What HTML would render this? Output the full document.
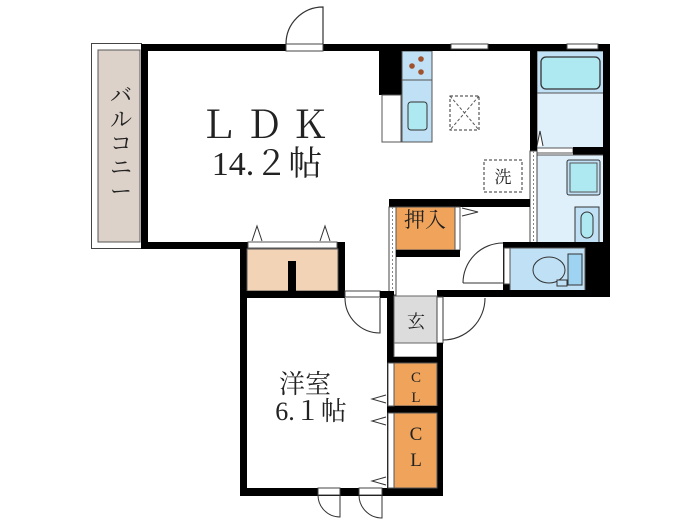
<!DOCTYPE html>
<html><head><meta charset="utf-8"><style>
html,body{margin:0;padding:0;background:#fff;}
svg{display:block;}
.t{font-family:"Liberation Serif","Noto Serif CJK JP",serif;fill:#222;}
</style></head><body>
<svg width="700" height="525" viewBox="0 0 700 525" xmlns="http://www.w3.org/2000/svg">
<!-- balcony -->
<rect x="91.5" y="43.5" width="50" height="205" fill="#fff" stroke="#444" stroke-width="1"/>
<rect x="98" y="50" width="42" height="192" fill="#ddd2c9" stroke="#555" stroke-width="1"/>
<text class="t" x="121" y="0" font-size="22" text-anchor="middle">
<tspan x="121" y="103">バ</tspan><tspan x="121" y="127">ル</tspan><tspan x="121" y="151">コ</tspan><tspan x="121" y="175">ニ</tspan><tspan x="121" y="199">ー</tspan></text>

<!-- kitchen -->
<rect x="379" y="51" width="24" height="44" fill="#000"/>
<rect x="382" y="95" width="19" height="47" fill="#fff" stroke="#555"/>
<rect x="402" y="51" width="30" height="91" fill="#bfe0f5" stroke="#555"/>
<line x1="402" y1="80" x2="432" y2="80" stroke="#555"/>
<circle cx="412" cy="66" r="2.8" fill="#a0522d"/><circle cx="421" cy="59" r="2.8" fill="#a0522d"/><circle cx="421" cy="72" r="2.8" fill="#a0522d"/>
<rect x="408" y="102" width="19" height="28" rx="3" fill="#aee9f2" stroke="#333"/>
<rect x="450" y="96" width="29" height="34" fill="none" stroke="#333" stroke-dasharray="3,2"/>
<path d="M450 96L479 130M479 96L450 130" stroke="#555" stroke-dasharray="3,2"/>
<rect x="484" y="160" width="38" height="32" fill="none" stroke="#333" stroke-dasharray="3,2"/>
<text class="t" x="503" y="183" font-size="17" text-anchor="middle">洗</text>

<!-- bath -->
<rect x="537" y="51" width="67" height="97" fill="#dff0fb" stroke="#555"/>
<rect x="537" y="51" width="67" height="42" fill="#bfe0f5" stroke="#555"/>
<rect x="541" y="57" width="59" height="32" rx="5" fill="#aee9f2" stroke="#333" stroke-width="1.3"/>
<rect x="537" y="148" width="36" height="5" fill="#fff" stroke="#555"/>
<path d="M537 146L540 131L543 146" fill="#fff" stroke="#333"/>
<rect x="573" y="147" width="37" height="8" fill="#000"/>
<!-- washroom -->
<rect x="537" y="155" width="67" height="95" fill="#dff0fb" stroke="#555"/>
<rect x="567" y="160" width="33" height="35" rx="2" fill="#bfe0f5" stroke="#333"/>
<rect x="570" y="163" width="27" height="29" fill="#aee9f2" stroke="#555"/>
<rect x="575" y="207" width="24" height="37" fill="#bfe0f5" stroke="#333"/>
<rect x="581" y="212" width="12" height="26" rx="6" fill="#aee9f2" stroke="#333"/>
<!-- LDK/bath wall -->
<rect x="530" y="51" width="7" height="100" fill="#000"/>
<rect x="530" y="151" width="7" height="99" fill="#fff" stroke="#444"/>
<line x1="533.5" y1="151" x2="533.5" y2="250" stroke="#888" stroke-dasharray="2,2"/>

<!-- top wall & door -->
<rect x="141" y="44" width="469" height="7" fill="#000"/>
<rect x="286" y="44" width="37" height="7" fill="#fff" stroke="#444"/>
<path d="M286 44A37 37 0 0 1 323 7V44" fill="none" stroke="#333" stroke-width="1.2"/>
<rect x="451" y="44" width="37" height="5" fill="#fff" stroke="#444"/>
<rect x="567" y="44" width="31" height="5" fill="#fff" stroke="#444"/>
<!-- right wall -->
<rect x="603" y="44" width="7" height="253" fill="#000"/>
<rect x="585" y="242" width="25" height="55" fill="#000"/>
<!-- left wall & bottom of LDK -->
<rect x="141" y="44" width="7" height="205" fill="#000"/>
<rect x="141" y="242" width="106" height="7" fill="#000"/>

<!-- storage block -->
<rect x="240" y="242" width="105" height="56" fill="#000"/>
<rect x="247" y="249" width="91" height="42" fill="#f2d3b5" stroke="#555"/>
<rect x="248" y="242" width="89" height="6" fill="#fff" stroke="#555"/>
<rect x="288" y="261" width="8" height="30" fill="#000"/>
<path d="M252 241L257 226L262 241" fill="#fff" stroke="#333"/>
<path d="M320 241L325 226L330 241" fill="#fff" stroke="#333"/>

<!-- 押入 -->
<rect x="389" y="199" width="141" height="8" fill="#000"/>
<rect x="389" y="207" width="7" height="88" fill="#fff" stroke="#444"/>
<line x1="392.5" y1="207" x2="392.5" y2="295" stroke="#888" stroke-dasharray="2,2"/>
<rect x="396" y="207" width="59" height="43" fill="#f0a35a" stroke="#555"/>
<rect x="455" y="207" width="5" height="43" fill="#fff" stroke="#555"/>
<rect x="396" y="250" width="64" height="7" fill="#000"/>
<path d="M462 208L478 212L462 216" fill="#fff" stroke="#333"/>
<text class="t" x="425" y="227" font-size="21" text-anchor="middle">押入</text>

<!-- toilet -->
<rect x="503" y="242" width="107" height="6" fill="#000"/>
<rect x="503" y="248" width="7" height="49" fill="#000"/>
<rect x="504" y="248" width="6" height="36" fill="#fff" stroke="#444"/>
<rect x="510" y="248" width="75" height="43" fill="#bfe0f5" stroke="#555"/>
<ellipse cx="549" cy="270" rx="16" ry="13" fill="#bfe0f5" stroke="#333"/>
<rect x="568" y="254" width="14" height="31" fill="#9fd3f2" stroke="#333"/>
<rect x="557" y="280" width="10" height="6" fill="#bfe0f5" stroke="#333"/>
<path d="M463 283A40 40 0 0 1 503 243M463 283H503" fill="none" stroke="#333" stroke-width="1.1"/>

<!-- corridor lower wall -->
<rect x="437" y="290" width="173" height="7" fill="#000"/>

<!-- 洋室 walls -->
<rect x="240" y="291" width="7" height="205" fill="#000"/>
<rect x="240" y="291" width="105" height="7" fill="#000"/>
<rect x="345" y="291" width="35" height="6" fill="#fff" stroke="#444"/>
<rect x="380" y="291" width="14" height="7" fill="#000"/>
<path d="M345 298A35 35 0 0 0 380 333V298" fill="none" stroke="#333" stroke-width="1.1"/>
<rect x="240" y="488" width="203" height="8" fill="#000"/>
<rect x="318" y="488" width="22" height="7" fill="#fff" stroke="#444"/>
<rect x="359" y="488" width="23" height="7" fill="#fff" stroke="#444"/>
<path d="M318 495A22 22 0 0 0 340 517V495" fill="none" stroke="#333"/>
<path d="M359 495A23 23 0 0 0 382 518V495" fill="none" stroke="#333"/>

<!-- 玄 -->
<rect x="387" y="291" width="7" height="205" fill="#000"/>
<rect x="394" y="296" width="43" height="47" fill="#dcdcdc" stroke="#666"/>
<rect x="394" y="343" width="43" height="14" fill="#fff" stroke="#666"/>
<text class="t" x="416" y="328" font-size="18" text-anchor="middle">玄</text>
<rect x="437" y="297" width="6" height="46" fill="#fff" stroke="#444"/>
<path d="M443 340A42 42 0 0 0 485 298" fill="none" stroke="#333" stroke-width="1.1"/>
<line x1="443" y1="298" x2="443" y2="340" stroke="#333"/>
<rect x="387" y="357" width="56" height="6" fill="#000"/>
<rect x="437" y="343" width="6" height="153" fill="#000"/>
<!-- CL -->
<rect x="394" y="363" width="43" height="43" fill="#f0a35a" stroke="#555"/>
<rect x="387" y="406" width="56" height="7" fill="#000"/>
<rect x="394" y="413" width="43" height="75" fill="#f0a35a" stroke="#555"/>
<rect x="388" y="363" width="6" height="43" fill="#fff" stroke="#555"/>
<rect x="388" y="413" width="6" height="75" fill="#fff" stroke="#555"/>
<text class="t" x="416" y="382" font-size="15" text-anchor="middle">C</text>
<text class="t" x="416" y="402" font-size="15" text-anchor="middle">L</text>
<text class="t" x="416" y="440" font-size="19" text-anchor="middle">C</text>
<text class="t" x="416" y="466" font-size="19" text-anchor="middle">L</text>
<path d="M386 395L372 399L386 403" fill="none" stroke="#333"/>
<path d="M386 417L372 421L386 425" fill="none" stroke="#333"/>
<path d="M386 477L372 481L386 485" fill="none" stroke="#333"/>

<!-- labels -->
<text class="t" x="268" y="138" font-size="38" text-anchor="middle" letter-spacing="8">ＬＤＫ</text>
<text class="t" x="267" y="175" font-size="34" text-anchor="middle">14.２帖</text>
<text class="t" x="305" y="393" font-size="26" text-anchor="middle">洋室</text>
<text class="t" x="311" y="420" font-size="26" text-anchor="middle">6.１帖</text>
</svg>
</body></html>
